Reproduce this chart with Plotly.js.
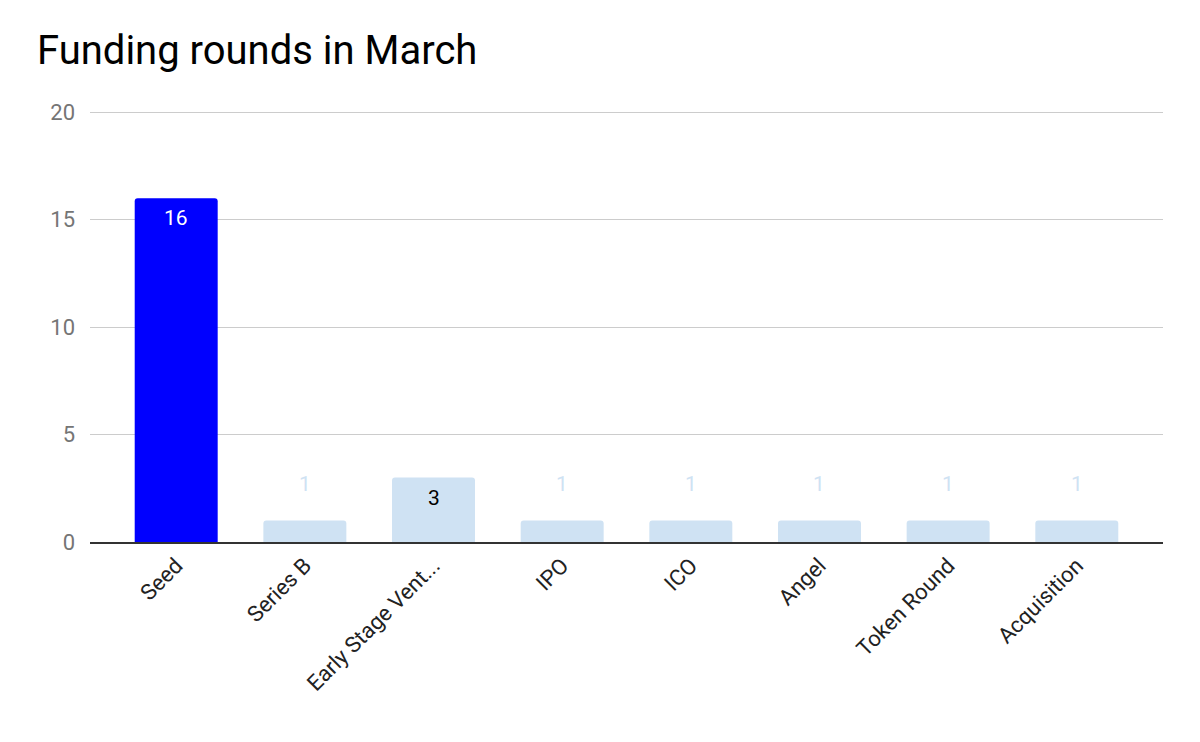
<!DOCTYPE html>
<html>
<head>
<meta charset="utf-8">
<script src="https://cdn.plot.ly/plotly-3.0.1.min.js"></script>
<style>html,body{margin:0;padding:0;background:#fff;}#chart{width:1200px;height:742px;}</style>
</head>
<body>
<div id="chart"></div>
<script>
const categories = ["Seed", "Series B", "Early Stage Vent...", "IPO", "ICO", "Angel", "Token Round", "Acquisition"];
const values = [16, 1, 3, 1, 1, 1, 1, 1];
const barColors = ["#0000ff", "#cfe2f3", "#cfe2f3", "#cfe2f3", "#cfe2f3", "#cfe2f3", "#cfe2f3", "#cfe2f3"];
const labelColors = ["#ffffff", "#cfe2f3", "#000000", "#cfe2f3", "#cfe2f3", "#cfe2f3", "#cfe2f3", "#cfe2f3"];
const labelInside = [true, false, true, false, false, false, false, false];
const yTicks = [0, 5, 10, 15, 20];

const trace = {
  type: "bar",
  x: categories,
  y: values,
  width: 0.645,
  marker: { color: barColors, cornerradius: 3 },
  hoverinfo: "none"
};

const annotations = categories.map((c, i) => ({
  x: c, y: values[i], xref: "x", yref: "y",
  text: String(values[i]), showarrow: false,
  yanchor: labelInside[i] ? "top" : "bottom",
  yshift: labelInside[i] ? -6 : 23,
  font: { family: "Roboto", size: 21, color: labelColors[i] }
}));

const layout = {
  width: 1200, height: 742,
  margin: { l: 90, r: 37, t: 108, b: 200 },
  paper_bgcolor: "#ffffff", plot_bgcolor: "#ffffff",
  font: { family: "Roboto", size: 21, color: "#222" },
  title: {
    text: "Funding rounds in March",
    x: 0, xref: "container", xanchor: "left",
    y: 1, yref: "container", yanchor: "top",
    pad: { l: 37, t: 36 },
    font: { family: "Roboto", size: 40, color: "#000" }
  },
  showlegend: false,
  xaxis: {
    type: "category",
    range: [-0.67, 7.67],
    tickangle: -45,
    showgrid: false,
    showline: true, linecolor: "#333", linewidth: 2,
    ticks: "",
    tickfont: { family: "Roboto", size: 22, color: "#222" },
    fixedrange: true
  },
  yaxis: {
    range: [0, 20.2],
    tickvals: yTicks,
    ticktext: yTicks.map(String),
    showgrid: true, gridcolor: "#cccccc", gridwidth: 1,
    zeroline: false, showline: false,
    ticks: "", ticklabelstandoff: 14,
    tickfont: { family: "Roboto", size: 22, color: "#757575" },
    fixedrange: true
  },
  annotations: annotations
};

Plotly.newPlot("chart", [trace], layout, { displayModeBar: false, staticPlot: true });
</script>
</body>
</html>
